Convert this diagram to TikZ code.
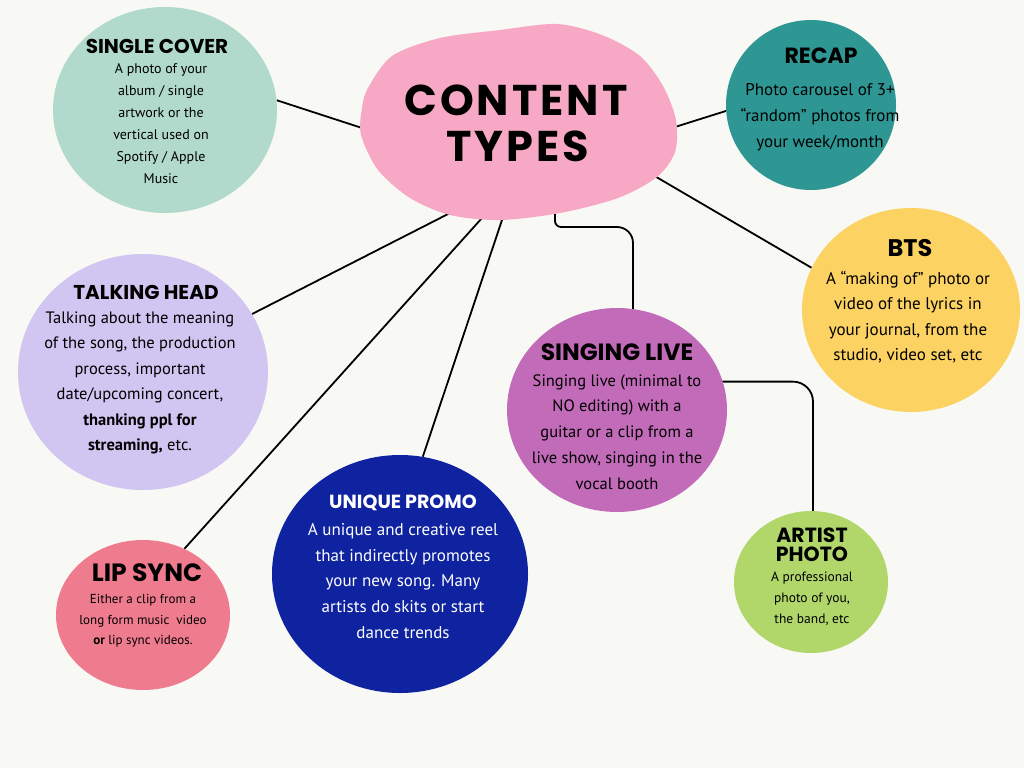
\documentclass[tikz,border=0pt]{standalone}
\usepackage{fontspec}
\setmainfont{PT Sans}
\newfontfamily\headfont{Poppins}
\newfontfamily\bigfont{Poppins}[LetterSpace=7]
\usetikzlibrary{shapes.geometric,backgrounds,calc}
\definecolor{bgC}{HTML}{F8F8F4}
\definecolor{blobC}{HTML}{F7A8C4}
\definecolor{scC}{HTML}{B1DACC}
\definecolor{rcC}{HTML}{2E9794}
\definecolor{btsC}{HTML}{FCD262}
\definecolor{thC}{HTML}{D1C5F1}
\definecolor{slC}{HTML}{C26BB9}
\definecolor{apC}{HTML}{B1D76B}
\definecolor{lsC}{HTML}{EF7B8E}
\definecolor{upC}{HTML}{0F23A0}
\begin{document}
\begin{tikzpicture}[x=1pt,y=-1pt,
  bubble/.style={ellipse, draw=none, inner sep=0pt},
  conn/.style={draw=black, line width=1.8pt},
  ttl/.style={font=\headfont\bfseries\fontsize{#1}{#1}\selectfont, inner sep=0pt, align=center},
  big/.style={font=\bigfont\bfseries\fontsize{43}{43}\selectfont, inner sep=0pt},
  body/.style 2 args={font=\fontsize{#1}{#2}\selectfont, inner sep=0pt, align=center}]
\useasboundingbox (0,0) rectangle (1024,768);

% bubbles
\node[bubble, fill=scC, minimum width=224pt, minimum height=206pt] (sc) at (165,110) {};
\node[bubble, fill=rcC, minimum width=170pt, minimum height=170pt] (rc) at (811,105) {};
\node[bubble, fill=btsC, minimum width=218pt, minimum height=204pt] (bts) at (911,310) {};
\node[bubble, fill=thC, minimum width=250pt, minimum height=236pt] (th) at (143,372) {};
\node[bubble, fill=slC, minimum width=220pt, minimum height=204pt] (sl) at (617,410) {};
\node[bubble, fill=apC, minimum width=154pt, minimum height=142pt] (ap) at (811,582) {};
\node[bubble, fill=lsC, minimum width=174pt, minimum height=150pt] (ls) at (143,615) {};
\node[bubble, fill=upC, minimum width=256pt, minimum height=238pt] (up) at (400,574) {};

% central blob
\fill[blobC] plot[smooth cycle] coordinates {
  (368,88) (392,56) (440,38) (500,30) (557,24) (602,35) (640,56) (663,86)
  (676,120) (675,152) (657,177) (618,198) (560,213) (500,220) (450,215)
  (410,198) (378,170) (361,135) (362,108)};
\coordinate (b1) at (362,128);
\coordinate (b2) at (675,127);
\coordinate (b3) at (658,178);
\coordinate (b4) at (452,212);
\coordinate (b5) at (482,218);
\coordinate (b6) at (503,217);
\coordinate (b7) at (555,214);

\node[big] (t1) at (516,100) {CONTENT};
\node[big] (t2) at (518,146) {TYPES};

% texts
\node[ttl=20] (scT) at (157,46) {SINGLE COVER};
\node[body={14}{22}] (scB) at (161,124) {A photo of your\\album / single\\artwork or the\\vertical used on\\Spotify / Apple\\Music};

\node[ttl=22] (rcT) at (821,56) {RECAP};
\node[body={17}{26}] (rcB) at (820,117) {Photo carousel of 3+\\“random” photos from\\your week/month};

\node[ttl=24] (btsT) at (910,248) {BTS};
\node[body={17}{25.5}] (btsB) at (908,317) {A “making of” photo or\\video of the lyrics in\\your journal, from the\\studio, video set, etc};

\node[ttl=20] (thT) at (146,292) {TALKING HEAD};
\node[body={16.5}{25.4}] (thB) at (140,383) {Talking about the meaning\\of the song, the production\\process, important\\date/upcoming concert,\\\textbf{thanking ppl for}\\\textbf{streaming,} etc.};

\node[ttl=23.5] (slT) at (617,352) {SINGING LIVE};
\node[body={16.5}{25.8}] (slB) at (617,432) {Singing live (minimal to\\NO editing) with a\\guitar or a clip from a\\live show, singing in the\\vocal booth};

\node[ttl=21, font=\headfont\bfseries\fontsize{20.5}{19.5}\selectfont] (apT) at (812,545) {ARTIST\\PHOTO};
\node[body={13.5}{21}] (apB) at (812,599) {A professional\\photo of you,\\the band, etc};

\node[ttl=25] (lsT) at (147,573) {LIP SYNC};
\node[body={13}{20.5}] (lsB) at (143,621) {Either a clip from a\\long form music\ \ video\\\textbf{or} lip sync videos.};

\node[ttl=19, text=white] (upT) at (403,503) {UNIQUE PROMO};
\node[body={17}{25.8}, text=white] (upB) at (403,581) {A unique and creative reel\\that indirectly promotes\\your new song. Many\\artists do skits or start\\dance trends};

% connectors + background
\begin{pgfonlayer}{background}
\fill[bgC] (0,0) rectangle (1024,768);
\draw[conn, shorten >=-6pt] (sc.5) -- (b1);
\draw[conn, shorten <=-6pt] (b2) -- (rc.184);
\draw[conn, shorten <=-6pt] (b3) -- (bts.157);
\draw[conn, shorten >=-6pt] (th.28) -- (b4);
\draw[conn, shorten >=-6pt] (ls.58) -- (b5);
\draw[conn, shorten >=-6pt] (up.79) -- (b6);
\draw[conn] (b7) -- ++(0,7) to[out=-90,in=180] ++(6,6) -- (617,227)
  to[out=0,in=90] (633,243) -- ($(sl.81)+(0,4)$);
\draw[conn, rounded corners=20pt] ($(sl.15)+(-4,0)$) -| ($(ap.north)+(2,4)$);
\end{pgfonlayer}
\end{tikzpicture}
\end{document}
